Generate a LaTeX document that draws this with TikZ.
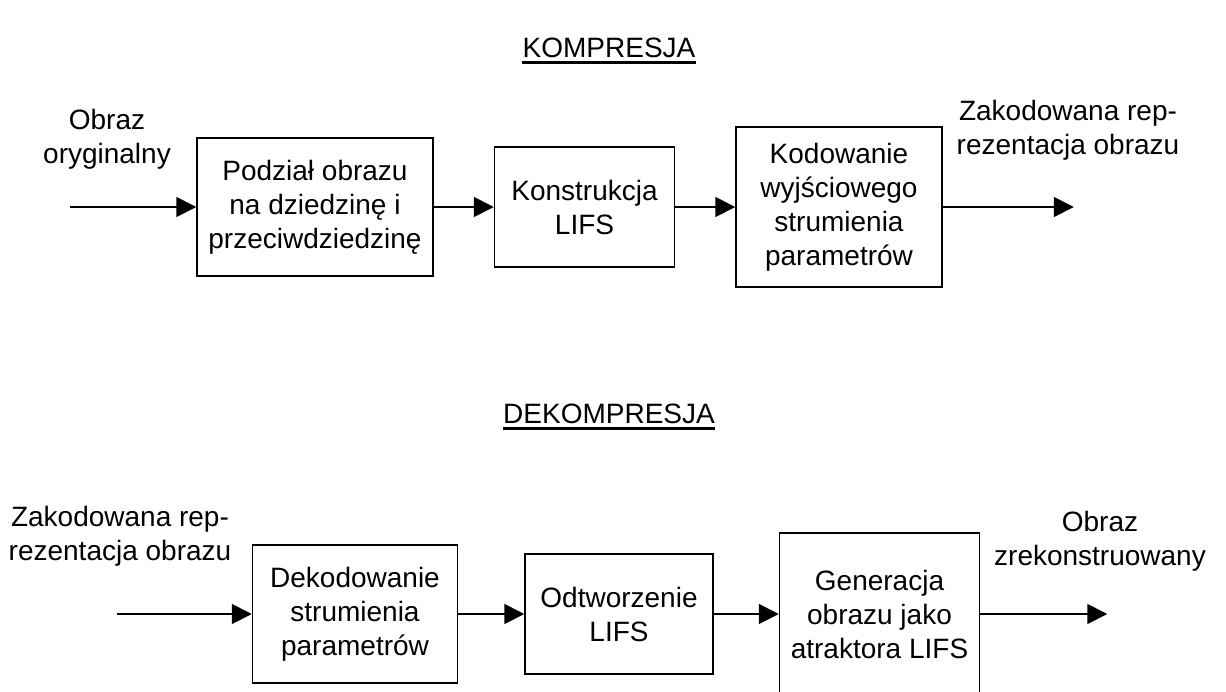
\documentclass[tikz,border=0pt]{standalone}
\usepackage{fontspec}
\setmainfont{Liberation Sans}
\usetikzlibrary{arrows.meta,positioning}

\begin{document}
\begin{tikzpicture}[x=1pt,y=-1pt,node distance=60pt,
box/.style={rectangle,draw=black,line width=1.5pt,align=center,inner sep=0pt,font=\fontsize{28}{34}\selectfont},
lbl/.style={align=center,inner sep=0pt,font=\fontsize{28}{34}\selectfont},
title/.style={inner sep=0pt,font=\fontsize{28}{34}\selectfont},
arrow/.style={-{Triangle[length=20pt,width=20pt]},line width=1.8pt}]
\clip (0,0) rectangle (1226,691);
% kompresja
\node[title] (komp) at (609,48) {KOMPRESJA};
\draw[line width=2.8pt] ([yshift=-5pt]komp.base west) -- ([yshift=-5pt]komp.base east);
\node[box,minimum width=236pt,minimum height=138pt] (podzial) at (315,207) {Podział obrazu\\na dziedzinę i\\przeciwdziedzinę};
\node[box,minimum width=180pt,minimum height=120pt,right=60pt of podzial] (konstr) {Konstrukcja\\LIFS};
\node[box,minimum width=206pt,minimum height=160pt,right=60pt of konstr] (kodow) {Kodowanie\\wyjściowego\\strumienia\\parametrów};
\coordinate[left=126pt of podzial.west] (wej1);
\coordinate[right=131pt of kodow.east] (wyj1);
\node[lbl] (oryg) at (107,139) {Obraz\\oryginalny};
\node[lbl] (zak1) at (1068,130) {Zakodowana rep-\\rezentacja obrazu};
\foreach \x/\y in {wej1/podzial,podzial/konstr,konstr/kodow,kodow/wyj1}{\draw[arrow] (\x)--(\y);}
% dekompresja
\node[title] (dekomp) at (609,414) {DEKOMPRESJA};
\draw[line width=2.8pt] ([yshift=-5pt]dekomp.base west) -- ([yshift=-5pt]dekomp.base east);
\node[box,minimum width=205pt,minimum height=138pt] (dekod) at (355,614) {Dekodowanie\\strumienia\\parametrów};
\node[box,minimum width=188pt,minimum height=120pt,right=66pt of dekod] (odtw) {Odtworzenie\\LIFS};
\node[box,minimum width=200pt,minimum height=162pt,right=65pt of odtw] (gener) {Generacja\\obrazu jako\\atraktora LIFS};
\coordinate[left=135pt of dekod.west] (wej2);
\coordinate[right=127pt of gener.east] (wyj2);
\node[lbl] (zak2) at (120,536) {Zakodowana rep-\\rezentacja obrazu};
\node[lbl] (rekon) at (1100,541) {Obraz\\zrekonstruowany};
\foreach \x/\y in {wej2/dekod,dekod/odtw,odtw/gener,gener/wyj2}{\draw[arrow] (\x)--(\y);}
\end{tikzpicture}
\end{document}
